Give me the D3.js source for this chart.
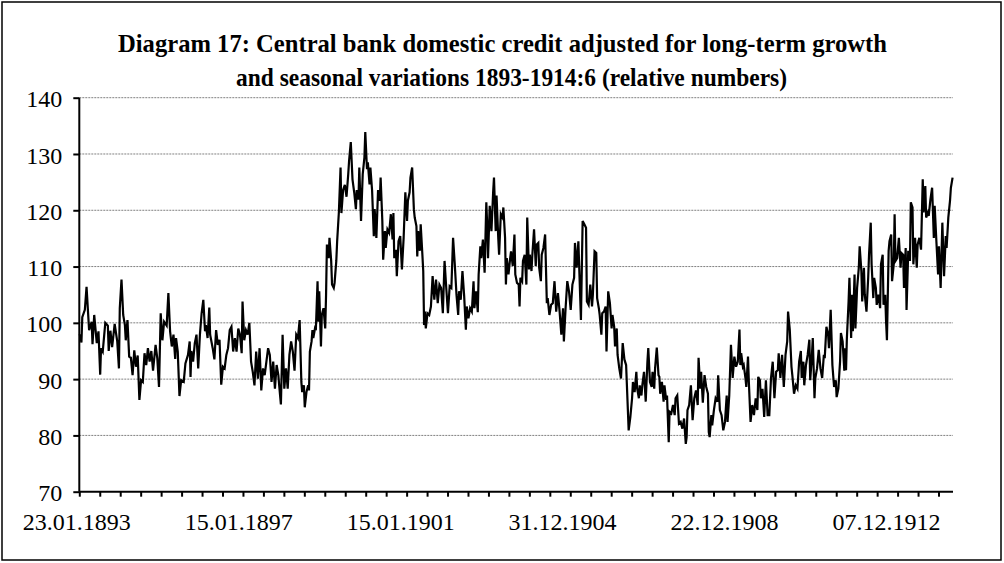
<!DOCTYPE html>
<html>
<head>
<meta charset="utf-8">
<script src="https://cdn.jsdelivr.net/npm/d3@7"></script>
<style>
  body { margin: 0; background: #fff; }
  svg { display: block; }
</style>
</head>
<body>
<div class="chart"></div>
<script>
// title lines
var titleLines = [
    "Diagram 17: Central bank domestic credit adjusted for long-term growth",
    "and seasonal variations 1893-1914:6 (relative numbers)"
];
// category axis: 1025 observations, a label every 190, a tick every 24
var obsCount = 1025;
var dateLabels = ["23.01.1893", "15.01.1897", "15.01.1901", "31.12.1904", "22.12.1908", "07.12.1912"];
var labelEvery = 190;
var tickEvery = 24;
var yTicks = [70, 80, 90, 100, 110, 120, 130, 140];

var credit = [
    [0,98],[2,96.5],[3,101],[6,102.3],[8,106.4],[11,98.7],[14,100.2],[15,96.2],[17,101.4],[20,96.4],[22,98.5],[24,90.8],[25,95.5],[27,94.9],[30,100],[33,99.5],[34,95],[36,98.6],[38,95.7],[41,99.8],[44,96.7],[46,91.9],[47,102.6],[49,107.7],[51,101.4],[53,99.6],[54,96.9],[56,100.5],[58,94],[60,93.8],[62,90.7],[64,95.1],[66,92.2],[68,94.2],[70,86.3],[72,89.8],[74,89.5],[76,94.6],[78,92.5],[80,95.5],[82,93.1],[84,95],[86,91.5],[89,96.1],[91,93.7],[93,88.6],[95,101.7],[97,96.9],[99,100.2],[102,99.5],[104,105.3],[106,98.5],[108,95.8],[110,97.9],[112,93.6],[113,97.3],[115,94.9],[117,87],[119,89.8],[122,89.5],[124,92.8],[127,94.3],[129,96.7],
    [130,90.4],[131,95],[133,93.1],[135,96.4],[137,97.9],[139,91.9],[141,97.9],[143,101.7],[145,104.1],[147,98.5],[148,99.6],[150,97.3],[152,102.7],[153,97.9],[156,95.5],[158,93.5],[160,98.7],[162,96.1],[164,97],[166,89],[168,92.2],[170,91.9],[172,94.3],[174,95.5],[176,98.7],[178,99.3],[180,94.9],[182,97.3],[184,94.9],[186,99],[188,97.9],[190,94.6],[191,103.8],[193,96.9],[195,98.7],[197,97.9],[199,100],[201,93.1],[203,91.3],[205,88.9],[207,94.9],[209,90.1],[211,95.5],[213,88],[215,91.9],[217,90.7],[219,93.1],[221,95.5],[223,94.3],[225,89.5],[227,93.1],[229,88.3],[231,92.5],[233,90.7],[234,88.9],[236,85.5],[238,97.9],[240,88.3],[242,91.9],[244,88.3],[246,94.3],[248,96.7],[250,94.9],[252,91.5],[254,97.9],[256,97.3],[258,100.5],
    [260,89.5],[261,87.7],[263,88.9],[264,85],[266,87.7],[268,88.9],[269,88],[270,94.9],[272,96.7],[273,98.7],[274,97.3],[276,99],[277,98.7],[279,107.4],[280,100.2],[281,105.6],[283,95.8],[284,101.4],[286,102.6],[288,99],[289,105],[290,113.9],[292,111.5],[293,115.1],[295,111],[296,106.8],[298,106.2],[299,107.1],[301,111],[302,114.5],[304,119.6],[306,127.6],[307,119.5],[309,123.6],[311,124.5],[313,122.4],[315,126.4],[316,128.8],[318,132.1],[320,125.5],[322,123.2],[324,120.2],[325,123.6],[327,121.9],[328,127.6],[330,118.1],[332,126.4],[334,129.4],[335,133.9],[337,127.3],[338,128.5],[340,124.6],[341,127.6],[343,123.5],[345,115.4],[346,120.2],[348,115.1],[350,123.6],[352,121.7],[353,125.8],[355,118.1],[356,111.2],[358,116.3],[359,113.3],[361,116.6],[363,116],[365,119.3],[367,114.8],[368,119.5],[369,111.5],[371,113],[372,108.3],[374,114.5],[376,115.4],[378,109.5],[380,115.1],[382,123.2],[384,118.1],[385,121.7],[387,123.2],
    [388,125.8],[390,127.6],[392,120.2],[393,118.7],[395,117.2],[396,111.8],[397,116.3],[399,112.8],[400,117.5],[402,112.1],[403,109.2],[404,99.6],[405,102],[406,99],[408,101.7],[410,101.4],[412,102.9],[414,108.3],[416,104.1],[418,107.7],[420,103.5],[422,106.8],[424,106.2],[426,101.7],[428,111],[430,106.2],[432,101.7],[434,106.5],[436,106.2],[438,115.1],[440,110.4],[442,105],[444,101.4],[445,105.6],[447,104.1],[449,109.2],[451,104.8],[453,98.8],[454,102.9],[456,100.8],[458,102.6],[460,102],[462,107.4],[463,102.6],[465,105.6],[467,101.9],[468,108.6],[470,113.6],[471,111.5],[473,114.8],[475,108.9],[477,121.4],[478,117.5],[479,111.5],[481,120.8],[483,116.3],[485,123.2],[486,125.8],[488,116.3],[489,122.6],[491,115.1],[492,112.1],[494,119.3],[496,118.7],[497,120.5],[499,115.1],[500,106.8],[501,111.5],[503,108.6],[505,111.5],[506,112.7],[508,110.1],[510,115.7],[511,108.6],[513,107.1],[515,106.8],[516,102.9],
    [517,108],[519,107.4],[520,111],[522,112.1],[524,106.8],[525,118.7],[527,109.5],[528,112.1],[530,109.2],[531,112.1],[533,116.6],[535,110.1],[536,113.9],[538,114.2],[539,109.8],[541,107.4],[542,112.1],[544,113.3],[546,115.7],[548,103.5],[549,104.4],[551,101.4],[553,103.2],[555,103.5],[557,107.4],[559,102],[561,105.3],[563,102],[565,97.9],[567,102.6],[568,96.7],[570,102.6],[572,107.4],[574,105.6],[576,102.3],[578,106.8],[580,108],[581,114.2],[583,109.8],[585,114.5],[586,109.8],[588,100.5],[590,118.1],[592,117.5],[594,116.9],[595,103.8],[597,103.2],[599,106.8],[601,102.9],[602,105],[604,112.7],[606,112.4],[607,104.4],[609,102.6],[610,101.4],[612,97.9],[613,101.7],[615,102],[617,102.9],[618,94.9],[620,105.6],[622,103.5],[624,99],[625,101.4],[627,99.3],[628,95.8],[630,99],[631,94.3],[633,91.9],[635,90.1],[637,96.4],[639,93.5],[641,92.5],[644,80.9],
    [646,83.3],[648,86.6],[649,89.5],[651,87.7],[653,91.3],[654,88.3],[656,86.6],[657,88.9],[659,87.1],[660,88.9],[662,91.3],[664,86],[666,93.1],[667,95.5],[669,89.5],[671,88.6],[672,91.3],[674,88.3],[675,91.9],[677,95.6],[679,90.7],[680,90.4],[681,87.4],[683,89.5],[685,86],[686,88.9],[688,86.3],[689,87.1],[691,78.8],[692,84.2],[694,83.9],[696,85.4],[698,83.6],[699,86.6],[701,87.1],[703,82.1],[705,82.4],[707,81.2],[709,83],[711,78.5],[712,79.7],[713,84.5],[715,85.4],[717,88.9],[719,82.7],[721,86.6],[723,88],[725,85.4],[726,93.8],[728,88.3],[729,91.3],[731,85.8],[733,90.7],[735,88.6],[737,87.4],[738,80.6],[739,79.7],[741,83.6],[742,81.8],[744,84.5],[746,86.6],[748,86],[749,90.7],[751,84.5],[753,83.6],[755,80.9],[757,82.4],[759,87.1],[760,82.4],[762,87.1],[764,96.1],[766,90.2],[768,94],[770,92.2],[772,93.1],[774,98.8],
    [775,92.5],[776,94.6],[778,92.2],[779,92.5],[781,90.2],[782,88.6],[784,94],[785,89.5],[787,82.4],[789,85.4],[791,83.6],[793,86.6],[795,84.5],[796,90.4],[798,89.8],[799,86.6],[801,88.3],[803,83.3],[805,89.8],[807,83.6],[809,83.6],[811,90.2],[813,93.1],[815,86.6],[817,91.3],[819,91.6],[820,94.6],[822,90.2],[824,94.3],[826,88.6],[828,94.3],[830,96.7],[831,102],[833,98.8],[835,92.2],[836,90.7],[838,87.4],[840,88.9],[842,88.3],[844,93.1],[846,95],[847,90.2],[849,93.1],[850,88.9],[852,92.5],[854,94.3],[856,97],[857,89.8],[859,94.3],[860,97.3],[862,86.6],[863,90.2],[865,91.9],[867,95.2],[869,91.9],[871,90.2],[873,94.3],[874,93.7],[876,99.3],[878,97.9],[879,95.5],[881,102.3],[883,92.5],[885,88.6],[887,89.8],[888,86.8],[890,88.3],[892,93.1],[893,98.2],[895,96.7],[897,91.5],[898,95.5],
    [899,91.6],[900,97.3],[902,103.8],[903,108],[905,97.3],[906,105],[907,98.5],[909,108.6],[910,99],[912,106.2],[914,109.8],[915,113.6],[917,109.2],[918,103.8],[920,109.8],[921,105],[923,102],[925,108],[926,112.1],[928,117.8],[929,110.4],[931,104.4],[932,108],[934,106.2],[935,103.2],[937,105],[939,102.6],[940,110.4],[942,112.1],[943,103.2],[945,105],[946,100.2],[947,96.9],[949,112.8],[950,114.5],[952,115.7],[953,107.4],[955,110.4],[956,119.3],[957,111],[959,111.5],[961,115.1],[963,109.8],[964,112.4],[966,112.1],[967,106.2],[969,113.3],[970,102.3],[972,112.8],[974,111],[975,121.4],[977,120.5],[978,110.4],[980,115.1],[982,109.8],[983,113.9],[985,115.1],[987,113],[989,125.5],[990,119.6],[992,124.3],[993,118.7],[995,119.6],[996,119],[998,121.9],[1000,124],[1002,115.1],[1003,120.8],[1005,114.5],[1007,108.6],[1008,113.6],[1010,106.2],[1012,117.8],[1014,108.3],[1016,115.4],[1017,113.3],[1019,118.7],[1021,121.7],[1022,124],[1024,125.8]
];

var width = 1004, height = 563;
var plotLeft = 79.3, plotRight = 953, plotTop = 97.7, plotBottom = 491.7;
var font = "'Liberation Serif', 'Times New Roman', serif";

var svg = d3.select("div.chart")
    .append("svg")
    .attr("width", width)
    .attr("height", height);

// chart frame
svg.append("rect")
    .attr("x", 2)
    .attr("y", 2)
    .attr("width", width - 5)
    .attr("height", height - 5)
    .attr("fill", "none")
    .attr("stroke", "#000")
    .attr("stroke-width", 1.5);

var x = d3.scaleLinear()
    .domain([-0.5, obsCount - 0.5])
    .range([plotLeft, plotRight]);
var y = d3.scaleLinear()
    .domain([70, 140])
    .range([plotBottom, plotTop]);

// dotted gridlines
svg.append("g")
    .selectAll("line")
    .data(yTicks.slice(1))
    .enter().append("line")
    .attr("x1", plotLeft)
    .attr("x2", plotRight)
    .attr("y1", function(d){ return y(d); })
    .attr("y2", function(d){ return y(d); })
    .attr("stroke", "#808080")
    .attr("stroke-width", 1)
    .attr("stroke-dasharray", "2,1");

// y axis
var yAxis = svg.append("g")
    .attr("transform", "translate(" + plotLeft + ",0)")
    .call(d3.axisLeft(y).tickValues(yTicks).tickSize(6).tickPadding(11));
yAxis.selectAll("text")
    .attr("font-family", font)
    .attr("font-size", "24px")
    .attr("fill", "#000")
    .attr("dy", "0.38em");

// x axis: ticks every 24 observations, labels every 190
var tickVals = d3.range(0, obsCount, tickEvery).map(function(d){ return d - 0.5; });
var xAxis = svg.append("g")
    .attr("transform", "translate(0," + plotBottom + ")")
    .call(d3.axisBottom(x).tickValues(tickVals).tickSize(5).tickFormat(""));
svg.selectAll(".domain, .tick line")
    .attr("stroke", "#000")
    .attr("stroke-width", 2);
xAxis.select(".domain").attr("d", "M" + plotLeft + ",0H" + plotRight);
yAxis.select(".domain").attr("d", "M0," + plotBottom + "V" + plotTop);

svg.append("g")
    .selectAll("text")
    .data(dateLabels)
    .enter().append("text")
    .text(function(d){ return d; })
    .attr("x", function(d, i){ return x(i * labelEvery) - 3; })
    .attr("y", 530)
    .attr("text-anchor", "middle")
    .attr("font-family", font)
    .attr("font-size", "24px");

// the series
var line = d3.line()
    .x(function(d){ return x(d[0]); })
    .y(function(d){ return y(d[1]); });
svg.append("path")
    .datum(credit)
    .attr("d", line)
    .attr("fill", "none")
    .attr("stroke", "#000")
    .attr("stroke-width", 2.2)
    .attr("stroke-linejoin", "miter");

// title, squeezed a little like the original
var titleWidths = [769, 551];
svg.append("g")
    .selectAll("text")
    .data(titleLines)
    .enter().append("text")
    .text(function(d){ return d; })
    .attr("x", function(d, i){ return i == 0 ? 502.5 : 511.5; })
    .attr("y", function(d, i){ return 52 + i * 34; })
    .attr("text-anchor", "middle")
    .attr("textLength", function(d, i){ return titleWidths[i]; })
    .attr("lengthAdjust", "spacingAndGlyphs")
    .attr("font-family", font)
    .attr("font-weight", "bold")
    .attr("font-size", "26px");
</script>
</body>
</html>
